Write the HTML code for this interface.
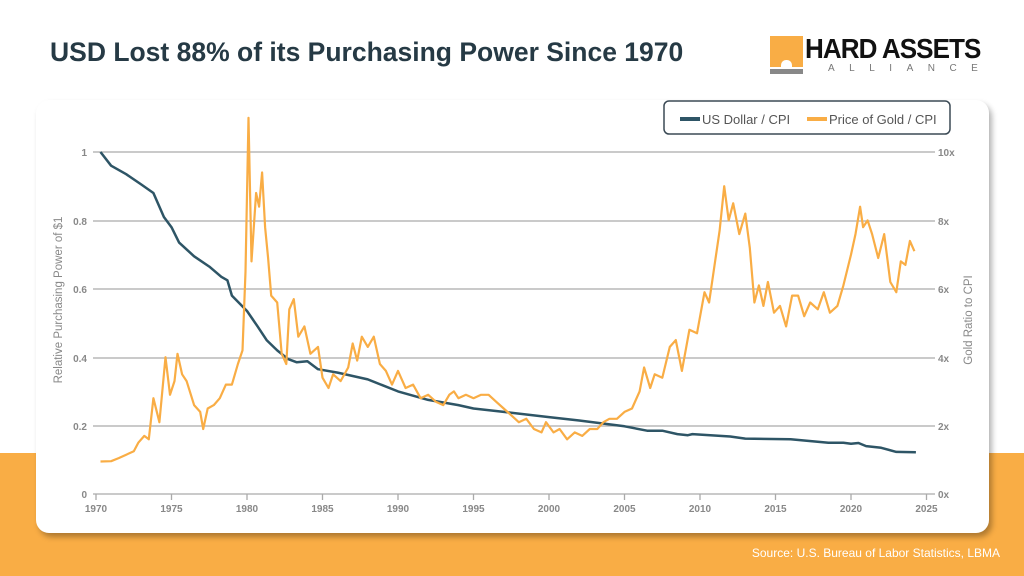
<!DOCTYPE html>
<html><head><meta charset="utf-8"><style>
html,body{margin:0;padding:0}
body{width:1024px;height:576px;position:relative;overflow:hidden;background:#fff;font-family:"Liberation Sans",sans-serif}
.band{position:absolute;left:0;top:453px;width:1024px;height:123px;background:#f9ad45}
.card{position:absolute;left:36px;top:100px;width:953px;height:433px;background:#fff;border-radius:13px;box-shadow:3px 4px 6px rgba(0,0,0,0.3)}
h1{position:absolute;left:50px;top:37px;margin:0;font-size:26.5px;font-weight:bold;color:#263a45}
.src{position:absolute;right:24px;top:546px;color:#fff;font-size:12px}
</style></head><body>
<h1>USD Lost 88% of its Purchasing Power Since 1970</h1>
<div style="position:absolute;left:770px;top:36px;width:33px;height:31px;background:#f9ad45"></div>
<div style="position:absolute;left:781px;top:60px;width:11px;height:7px;background:#fff;border-radius:5px 5px 0 0"></div>
<div style="position:absolute;left:770px;top:69px;width:33px;height:5px;background:#888"></div>
<div style="position:absolute;left:805px;top:33px;font-size:28px;font-weight:bold;color:#111;letter-spacing:-1px;transform:scaleX(0.93);transform-origin:left">HARD ASSETS</div>
<div style="position:absolute;left:828px;top:63px;font-size:10px;color:#777;letter-spacing:14.5px">ALLIANCE</div>
<div class="band"></div>
<div class="card"></div>
<div class="src">Source: U.S. Bureau of Labor Statistics, LBMA</div>
<svg width="1024" height="576" style="position:absolute;left:0;top:0" font-family="Liberation Sans, sans-serif">
<rect x="664" y="101" width="286" height="33" rx="5" fill="#fff" stroke="#3b4a55" stroke-width="1.5"/>
<line x1="680" y1="119" x2="700" y2="119" stroke="#2e5566" stroke-width="4"/>
<text x="702" y="124" font-size="13" fill="#555">US Dollar / CPI</text>
<line x1="807" y1="119" x2="827" y2="119" stroke="#f9ad45" stroke-width="4"/>
<text x="829" y="124" font-size="13" fill="#555">Price of Gold / CPI</text>
<g stroke="#aaa" stroke-width="1.3">
<line x1="93" y1="152" x2="935" y2="152"/><line x1="93" y1="221" x2="935" y2="221"/>
<line x1="93" y1="289" x2="935" y2="289"/><line x1="93" y1="358" x2="935" y2="358"/>
<line x1="93" y1="426" x2="935" y2="426"/><line x1="93" y1="494" x2="935" y2="494"/>
</g>
<g id="ticks" stroke="#aaa" stroke-width="1.3"></g>
<g font-size="10" fill="#888" font-weight="bold">
<text x="87" y="156" text-anchor="end">1</text><text x="87" y="225" text-anchor="end">0.8</text>
<text x="87" y="293" text-anchor="end">0.6</text><text x="87" y="362" text-anchor="end">0.4</text>
<text x="87" y="430" text-anchor="end">0.2</text><text x="87" y="498" text-anchor="end">0</text>
<text x="938" y="156">10x</text><text x="938" y="225">8x</text><text x="938" y="293">6x</text>
<text x="938" y="362">4x</text><text x="938" y="430">2x</text><text x="938" y="498">0x</text>
<g id="xl" text-anchor="middle"></g>
</g>
<text transform="translate(62,300) rotate(-90)" font-size="11.5" fill="#888" text-anchor="middle">Relative Purchasing Power of $1</text>
<text transform="translate(972,320) rotate(-90)" font-size="11.5" fill="#888" text-anchor="middle">Gold Ratio to CPI</text>
<polyline id="usd" fill="none" stroke="#2e5566" stroke-width="2.5" stroke-linejoin="round"/>
<polyline id="gold" fill="none" stroke="#f9ad45" stroke-width="2.2" stroke-linejoin="round"/>
</svg>
<script>
var X=function(y){return 96+15.1*(y-1970)};
var ns="http://www.w3.org/2000/svg";
var t=document.getElementById('ticks'),xl=document.getElementById('xl');
for(var y=1970;y<=2025;y+=5){var l=document.createElementNS(ns,'line');l.setAttribute('x1',X(y));l.setAttribute('x2',X(y));l.setAttribute('y1',494);l.setAttribute('y2',500);t.appendChild(l);
var tx=document.createElementNS(ns,'text');tx.setAttribute('x',X(y));tx.setAttribute('y',512);tx.textContent=y;xl.appendChild(tx);}
var usd=[[1970.3,1],[1971,0.96],[1972,0.935],[1973,0.905],[1973.8,0.88],[1974.5,0.81],[1975,0.78],[1975.5,0.735],[1976.5,0.695],[1977.5,0.665],[1978.3,0.635],[1978.7,0.625],[1979,0.58],[1980,0.535],[1980.7,0.49],[1981.3,0.45],[1982,0.42],[1982.7,0.395],[1983.3,0.385],[1984,0.388],[1984.7,0.365],[1986,0.355],[1988,0.335],[1990,0.3],[1992,0.275],[1994,0.26],[1995,0.25],[1997,0.24],[2000,0.225],[2002,0.215],[2005,0.198],[2006.5,0.185],[2007.5,0.185],[2008.5,0.175],[2009.2,0.172],[2009.5,0.175],[2012,0.168],[2013,0.162],[2016,0.16],[2018.5,0.15],[2019.5,0.15],[2020,0.147],[2020.5,0.149],[2021,0.14],[2022,0.135],[2023,0.123],[2024.3,0.122]];
document.getElementById('usd').setAttribute('points',usd.map(function(p){return X(p[0]).toFixed(1)+','+(494-342*p[1]).toFixed(1)}).join(' '));
var g=[[1970.3,0.95],[1971,0.96],[1971.5,1.05],[1972,1.15],[1972.5,1.25],[1972.8,1.5],[1973.2,1.7],[1973.5,1.6],[1973.8,2.8],[1974.2,2.1],[1974.6,4.0],[1974.9,2.9],[1975.2,3.3],[1975.4,4.1],[1975.7,3.5],[1976,3.3],[1976.5,2.6],[1976.9,2.4],[1977.1,1.9],[1977.4,2.5],[1977.8,2.6],[1978.2,2.8],[1978.6,3.2],[1979,3.2],[1979.4,3.8],[1979.7,4.2],[1979.9,6.5],[1980.1,11.0],[1980.3,6.8],[1980.6,8.8],[1980.8,8.4],[1981,9.4],[1981.2,7.8],[1981.4,6.9],[1981.6,5.8],[1982,5.6],[1982.3,4.1],[1982.6,3.8],[1982.8,5.4],[1983.1,5.7],[1983.4,4.6],[1983.8,4.9],[1984.2,4.1],[1984.7,4.3],[1985,3.4],[1985.4,3.1],[1985.7,3.5],[1986.2,3.3],[1986.7,3.7],[1987,4.4],[1987.3,3.9],[1987.6,4.6],[1988,4.3],[1988.4,4.6],[1988.8,3.8],[1989.2,3.6],[1989.6,3.2],[1990,3.6],[1990.5,3.1],[1991,3.2],[1991.5,2.8],[1992,2.9],[1992.5,2.7],[1993,2.6],[1993.4,2.9],[1993.7,3.0],[1994,2.8],[1994.5,2.9],[1995,2.8],[1995.5,2.9],[1996,2.9],[1996.5,2.7],[1997,2.5],[1997.5,2.3],[1998,2.1],[1998.5,2.2],[1999,1.9],[1999.5,1.8],[1999.8,2.1],[2000.3,1.8],[2000.7,1.9],[2001.2,1.6],[2001.7,1.8],[2002.2,1.7],[2002.7,1.9],[2003.2,1.9],[2003.6,2.1],[2004,2.2],[2004.5,2.2],[2005,2.4],[2005.5,2.5],[2006,3.0],[2006.3,3.7],[2006.7,3.1],[2007,3.5],[2007.5,3.4],[2008,4.3],[2008.4,4.5],[2008.8,3.6],[2009.3,4.8],[2009.8,4.7],[2010.3,5.9],[2010.6,5.6],[2011,6.8],[2011.3,7.7],[2011.6,9.0],[2011.9,8.0],[2012.2,8.5],[2012.6,7.6],[2013,8.2],[2013.3,7.2],[2013.6,5.6],[2013.9,6.1],[2014.2,5.5],[2014.5,6.2],[2014.9,5.3],[2015.3,5.5],[2015.7,4.9],[2016.1,5.8],[2016.5,5.8],[2016.9,5.2],[2017.3,5.6],[2017.8,5.4],[2018.2,5.9],[2018.6,5.3],[2019.1,5.5],[2019.5,6.1],[2020,7.0],[2020.3,7.6],[2020.6,8.4],[2020.8,7.8],[2021.1,8.0],[2021.4,7.6],[2021.8,6.9],[2022.2,7.6],[2022.6,6.2],[2023,5.9],[2023.3,6.8],[2023.6,6.7],[2023.9,7.4],[2024.2,7.1]];
document.getElementById('gold').setAttribute('points',g.map(function(p){return X(p[0]).toFixed(1)+','+(494-34.2*p[1]).toFixed(1)}).join(' '));
</script>
</body></html>
